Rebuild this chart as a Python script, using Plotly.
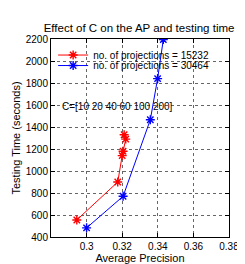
import plotly.graph_objects as go

# Data
red_ap = [0.2945, 0.3175, 0.3200, 0.3205, 0.3220, 0.3211]
red_time = [555, 900, 1140, 1180, 1290, 1330]
blue_ap = [0.3000, 0.3205, 0.3358, 0.3399, 0.3431]
blue_time = [483, 770, 1466, 1840, 2195]
x_ticks = [0.3, 0.32, 0.34, 0.36, 0.38]
y_ticks = [400, 600, 800, 1000, 1200, 1400, 1600, 1800, 2000, 2200]
names = ["no. of projections = 15232", "no. of projections = 30464"]

FONT = "Liberation Sans, Arial, Helvetica, sans-serif"

fig = go.Figure()
fig.add_trace(go.Scatter(x=red_ap, y=red_time, mode="lines+markers", name=names[0],
                         legend="legend",
                         line=dict(color="#ff0000", width=1),
                         marker=dict(symbol="asterisk-open", size=7.5, color="#ff0000",
                                     line=dict(color="#ff0000", width=1.4))))
fig.add_trace(go.Scatter(x=blue_ap, y=blue_time, mode="lines+markers", name=names[1],
                         legend="legend2",
                         line=dict(color="#0000ff", width=1),
                         marker=dict(symbol="asterisk-open", size=7.5, color="#0000ff",
                                     line=dict(color="#0000ff", width=1.4))))

axis_common = dict(showline=True, linecolor="black", linewidth=1, mirror="ticks",
                   ticks="inside", ticklen=4, tickcolor="black", automargin=False,
                   showgrid=True, gridcolor="#666666", griddash="dot", gridwidth=0.6,
                   zeroline=False, tickfont=dict(size=10, color="black", family=FONT))

fig.update_xaxes(range=[0.28, 0.38], tickvals=x_ticks, ticktext=["0.3", "0.32", "0.34", "0.36", "0.38"],
                 title=dict(text="Average Precision", font=dict(size=11, color="black", family=FONT), standoff=1),
                 **axis_common)
fig.update_yaxes(range=[400, 2200], tickvals=y_ticks,
                 title=dict(text="Testing Time (seconds)", font=dict(size=11, color="black", family=FONT), standoff=2),
                 **axis_common)

fig.add_annotation(text="C=[10 20 40 60 100 200]", xref="paper", yref="paper",
                   x=0.05, y=0.657, xanchor="left", yanchor="middle", showarrow=False,
                   font=dict(size=10, color="black", family=FONT))

leg_common = dict(xanchor="left", yanchor="middle", bgcolor="rgba(0,0,0,0)",
                  font=dict(size=10, color="black", family=FONT), itemwidth=30,
                  borderwidth=0)

fig.update_layout(
    width=237, height=256,
    margin=dict(l=43, r=16, t=31, b=26.5),
    paper_bgcolor="white", plot_bgcolor="white",
    title=dict(text="Effect of C on the AP and testing time", x=0.553, xanchor="center",
               y=0.921, yanchor="middle", font=dict(size=11.5, color="black", family=FONT)),
    legend=dict(x=0.012, y=0.919, **leg_common),
    legend2=dict(x=0.012, y=0.866, **leg_common),
    showlegend=True,
    font=dict(family=FONT),
)

fig.write_html("out.html")
